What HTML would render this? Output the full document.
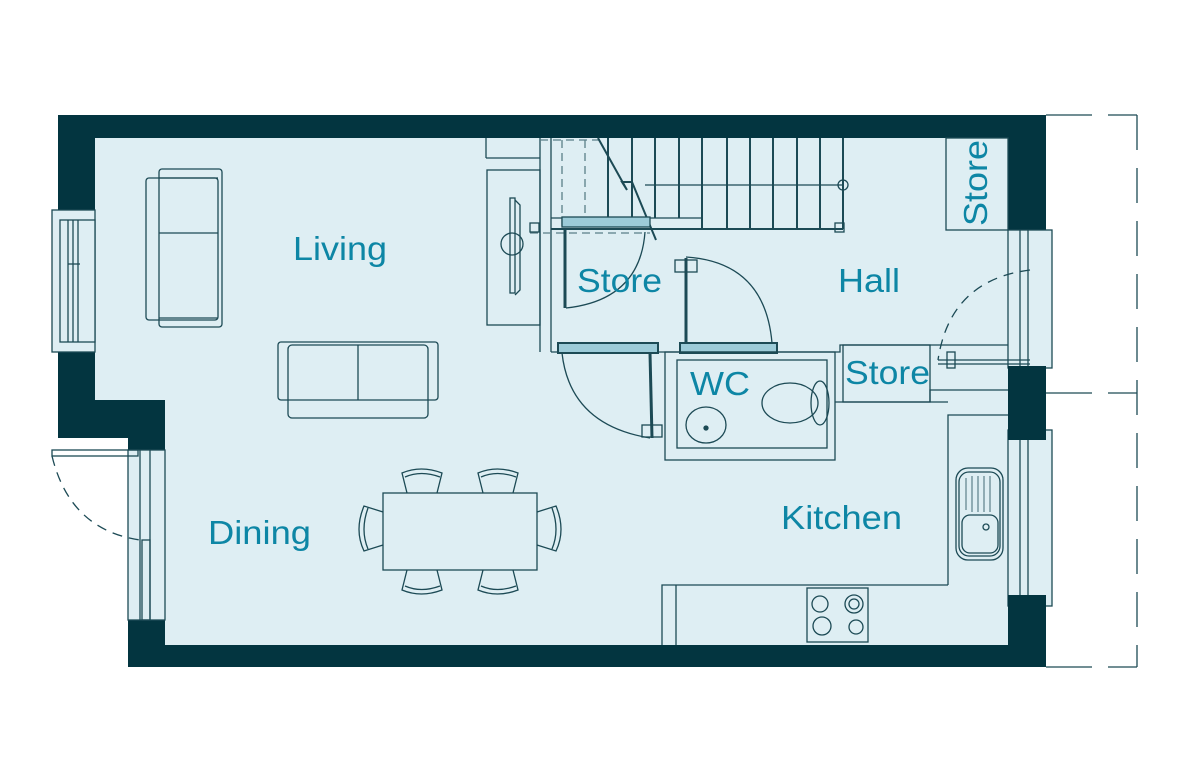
<!DOCTYPE html>
<html><head><meta charset="utf-8"><style>
html,body{margin:0;padding:0;background:#fff;}
svg{display:block;}
text{font-family:"Liberation Sans",sans-serif;fill:#0d86a5;font-size:33px;}
</style></head><body>
<svg width="1190" height="784" viewBox="0 0 1190 784" xmlns="http://www.w3.org/2000/svg">
<g stroke="#1c4a55" fill="none" stroke-width="1.3">
<path d="M95 138 H1008 V645 H165 V400 H95 Z" fill="#deeef3" stroke="none"/>
<g fill="#033540" stroke="none">
<rect x="58" y="115" width="988" height="23"/>
<rect x="58" y="115" width="37" height="323"/>
<rect x="58" y="400" width="107" height="38"/>
<rect x="128" y="400" width="37" height="267"/>
<rect x="128" y="645" width="918" height="22"/>
<rect x="1008" y="115" width="38" height="552"/>
</g>
<rect x="52" y="210" width="43" height="142" fill="#deeef3"/>
<rect x="60" y="220" width="35" height="122" fill="#deeef3"/>
<line x1="68" y1="220" x2="68" y2="342"/><line x1="73" y1="220" x2="73" y2="342"/><line x1="78" y1="220" x2="78" y2="342"/>
<line x1="68" y1="264" x2="80" y2="264"/>
<rect x="128" y="450" width="37" height="170" fill="#deeef3"/>
<line x1="140" y1="450" x2="140" y2="620"/><line x1="150" y1="450" x2="150" y2="620"/>
<rect x="52" y="450" width="86" height="6"/>
<path d="M52 456 Q 70 530 140 540" stroke-dasharray="10 7"/>
<rect x="142" y="540" width="8" height="80"/>
<rect x="1008" y="230" width="44" height="138" fill="#deeef3"/>
<line x1="1020" y1="230" x2="1020" y2="368"/><line x1="1028" y1="230" x2="1028" y2="368"/>
<rect x="1008" y="430" width="44" height="176" fill="#deeef3"/>
<line x1="1020" y1="430" x2="1020" y2="606"/><line x1="1028" y1="430" x2="1028" y2="606"/>
<rect x="1008" y="366" width="38" height="74" fill="#033540" stroke="none"/>
<rect x="1008" y="595" width="38" height="72" fill="#033540" stroke="none"/>
<path d="M1030 270 Q 950 280 938 360" stroke-dasharray="10 7"/>
<line x1="938" y1="360" x2="1030" y2="360"/><line x1="938" y1="364" x2="1030" y2="364"/>
<rect x="947" y="352" width="8" height="16"/>
<line x1="1137" y1="115" x2="1137" y2="667" stroke-dasharray="35 18"/>
<line x1="1046" y1="115" x2="1092" y2="115"/><line x1="1108" y1="115" x2="1137" y2="115"/>
<line x1="1046" y1="393" x2="1092" y2="393"/><line x1="1108" y1="393" x2="1137" y2="393"/>
<line x1="1046" y1="667" x2="1092" y2="667"/><line x1="1108" y1="667" x2="1137" y2="667"/>
<line x1="486" y1="138" x2="486" y2="158"/><line x1="486" y1="158" x2="540" y2="158"/>
<rect x="487" y="170" width="53" height="155"/>
<rect x="510" y="198" width="5" height="95"/>
<path d="M515 200 L520 205 V290 L515 295"/>
<circle cx="512" cy="244" r="11"/>
<line x1="540" y1="138" x2="540" y2="352" />
<line x1="551" y1="138" x2="551" y2="352"/>
<path d="M551 218 H702 V138" />
<line x1="551" y1="229" x2="843" y2="229" stroke-width="2"/>
<line x1="843" y1="138" x2="843" y2="229" stroke-width="2"/>
<g stroke-width="2">
<line x1="608" y1="138" x2="608" y2="218"/><line x1="632" y1="138" x2="632" y2="218"/><line x1="655" y1="138" x2="655" y2="218"/><line x1="679" y1="138" x2="679" y2="218"/><line x1="702" y1="138" x2="702" y2="229"/><line x1="727" y1="138" x2="727" y2="229"/><line x1="750" y1="138" x2="750" y2="229"/><line x1="773" y1="138" x2="773" y2="229"/><line x1="797" y1="138" x2="797" y2="229"/><line x1="820" y1="138" x2="820" y2="229"/>
</g>
<line x1="645" y1="185" x2="843" y2="185"/>
<circle cx="843" cy="185" r="5"/>
<g stroke-dasharray="8 5" stroke="#5a7f88">
<line x1="540" y1="140" x2="600" y2="140"/><line x1="562" y1="140" x2="562" y2="230"/><line x1="585" y1="140" x2="585" y2="230"/><line x1="530" y1="233" x2="650" y2="233"/>
</g>
<path d="M598 138 L627 190 L622 182 L632 182 L656 240" stroke-width="2"/>
<rect x="835" y="223" width="9" height="9"/>
<rect x="530" y="223" width="9" height="9"/>
<rect x="562" y="217" width="88" height="10" fill="#9ccbd8"/>
<line x1="551" y1="352" x2="660" y2="352"/>
<line x1="565" y1="230" x2="565" y2="308" stroke-width="3"/>
<path d="M566 308 Q 640 300 645 232"/>
<rect x="558" y="343" width="100" height="10" fill="#9ccbd8" stroke-width="2"/>
<rect x="680" y="343" width="97" height="10" fill="#9ccbd8" stroke-width="2"/>
<path d="M660 352 H840 V345 H1008"/>
<line x1="686" y1="258" x2="686" y2="343" stroke-width="3"/>
<path d="M686 257 Q 765 262 772 343"/>
<rect x="675" y="260" width="22" height="12"/>
<line x1="650" y1="353" x2="652" y2="438" stroke-width="3"/>
<path d="M562 353 Q 570 425 650 438"/>
<rect x="642" y="425" width="20" height="12"/>
<rect x="665" y="352" width="170" height="108"/>
<rect x="677" y="360" width="150" height="88"/>
<ellipse cx="706" cy="425" rx="20" ry="18"/>
<circle cx="706" cy="428" r="2" fill="#1c4a55"/>
<ellipse cx="790" cy="403" rx="28" ry="20"/>
<ellipse cx="820" cy="403" rx="9" ry="22"/>
<rect x="843" y="345" width="87" height="57"/>
<path d="M930 402 V390 H1008"/>
<path d="M835 402 H948"/>
<rect x="946" y="138" width="62" height="92"/>
<path d="M948 585 V415 H1008"/>
<path d="M662 645 V585 H948"/>
<line x1="676" y1="585" x2="676" y2="645"/>
<rect x="956" y="468" width="47" height="92" rx="12"/>
<rect x="959" y="472" width="41" height="84" rx="10"/>
<g stroke-width="0.8"><line x1="966" y1="478" x2="966" y2="510"/><line x1="972" y1="476" x2="972" y2="512"/><line x1="978" y1="476" x2="978" y2="512"/><line x1="984" y1="476" x2="984" y2="512"/><line x1="990" y1="476" x2="990" y2="512"/></g>
<rect x="962" y="515" width="36" height="38" rx="8"/>
<circle cx="986" cy="527" r="3"/>
<rect x="807" y="588" width="61" height="54"/>
<circle cx="820" cy="604" r="8"/><circle cx="854" cy="604" r="9"/><circle cx="854" cy="604" r="5"/>
<circle cx="822" cy="626" r="9"/><circle cx="856" cy="627" r="7"/>
<rect x="146" y="178" width="72" height="142" rx="3"/>
<rect x="159" y="169" width="63" height="158" rx="3"/>
<line x1="159" y1="233" x2="218" y2="233"/>
<line x1="159" y1="178" x2="218" y2="178"/><line x1="159" y1="318" x2="218" y2="318"/>
<rect x="278" y="342" width="160" height="58" rx="3"/>
<rect x="288" y="345" width="140" height="73" rx="4"/>
<line x1="358" y1="345" x2="358" y2="400"/>
<rect x="383" y="493" width="154" height="77"/>
<g>
<path d="M407 493 L402 473 Q421 465 442 473 L437 493"/><path d="M405 477 Q421 470 440 477"/>
<path d="M483 493 L478 473 Q497 465 518 473 L513 493"/><path d="M481 477 Q497 470 516 477"/>
<path d="M407 570 L402 590 Q421 598 442 590 L437 570"/><path d="M405 586 Q421 593 440 586"/>
<path d="M483 570 L478 590 Q497 598 518 590 L513 570"/><path d="M481 586 Q497 593 516 586"/>
<path d="M383 512 L364 506 Q354 530 364 551 L383 545"/><path d="M368 508 Q360 530 368 549"/>
<path d="M537 512 L556 506 Q566 530 556 551 L537 545"/><path d="M552 508 Q560 530 552 549"/>
</g>
</g>
<text x="293" y="260" textLength="94" lengthAdjust="spacingAndGlyphs">Living</text>
<text x="208" y="544" textLength="103" lengthAdjust="spacingAndGlyphs">Dining</text>
<text x="577" y="292" textLength="85" lengthAdjust="spacingAndGlyphs">Store</text>
<text x="838" y="292" textLength="62" lengthAdjust="spacingAndGlyphs">Hall</text>
<text x="690" y="395" textLength="60" lengthAdjust="spacingAndGlyphs">WC</text>
<text x="845" y="384" textLength="85" lengthAdjust="spacingAndGlyphs">Store</text>
<text x="781" y="529" textLength="121" lengthAdjust="spacingAndGlyphs">Kitchen</text>
<text transform="translate(987,226) rotate(-90)" x="0" y="0" textLength="86" lengthAdjust="spacingAndGlyphs">Store</text>
</svg>
</body></html>
